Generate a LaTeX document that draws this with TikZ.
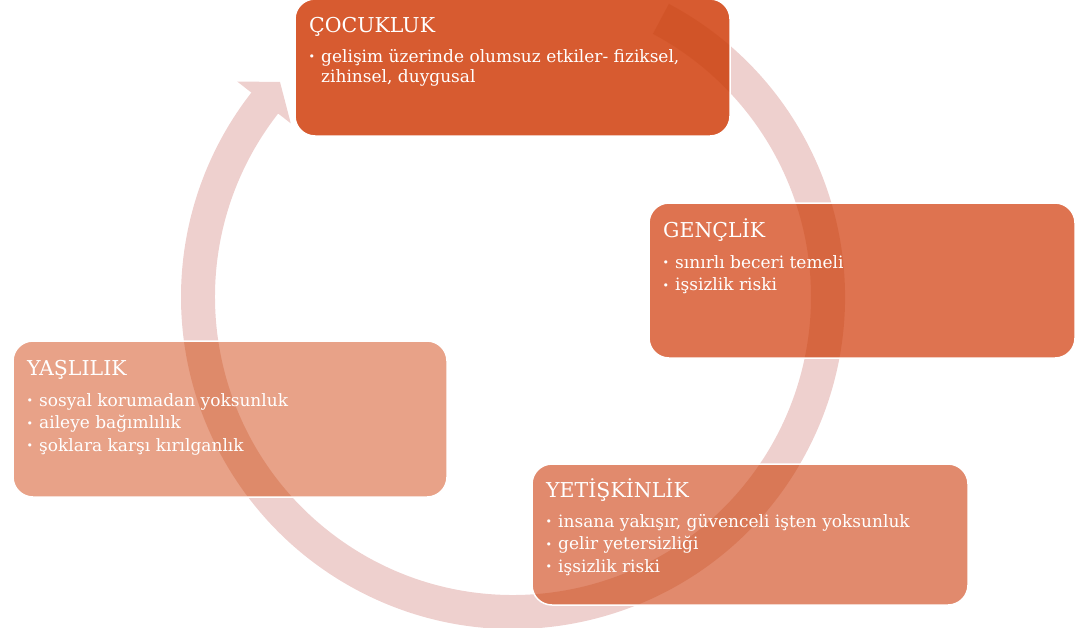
\documentclass[tikz,border=0pt]{standalone}
\usepackage{fontspec}
\setmainfont{DejaVu Serif}
\usetikzlibrary{calc}
\definecolor{ringc}{RGB}{238,208,206}
\definecolor{cA}{RGB}{215,91,48}
\definecolor{cB}{RGB}{222,115,80}
\definecolor{cC}{RGB}{225,138,109}
\definecolor{cD}{RGB}{232,162,136}
\definecolor{tintc}{RGB}{194,67,18}
\newcommand{\bul}{\makebox[12.5pt][l]{\fontsize{11}{11}\selectfont\raisebox{1.2pt}{•}}}
\begin{document}
\begin{tikzpicture}[x=1pt,y=1pt,
 box/.style={rectangle, rounded corners=20pt, draw=white, line width=1.5pt, inner sep=0pt, outer sep=0pt, anchor=north west},
 head/.style={anchor=base west, inner sep=0pt, text=white, font=\fontsize{20.5}{24}\selectfont},
 item/.style={anchor=base west, inner sep=0pt, text=white, font=\fontsize{17}{20}\selectfont},
 ringshape/.style={insert path={($(C)+(62:332)$) arc[start angle=62,end angle=-218,radius=332] -- ($(C)+(142:350)$) -- ($(C)+(142:316)+(52:26)$) -- ($(C)+(142:282)$) -- ($(C)+(142:298)$) arc[start angle=-218,end angle=62,radius=298] -- cycle}}
]
\useasboundingbox (0,0) rectangle (1076,-627);
\coordinate (C) at (513,-297);
\fill[ringc, ringshape];
\node[box, fill=cA, minimum width=435pt, minimum height=137pt] (cocuk) at (295,1) {};
\node[box, fill=cB, minimum width=426pt, minimum height=155pt] (genc) at (649,-203) {};
\node[box, fill=cD, minimum width=434pt, minimum height=156pt] (yasli) at (13,-341) {};
\node[box, fill=cC, minimum width=436pt, minimum height=141pt] (yetis) at (532,-464) {};
\begin{scope}
\clip[rounded corners=19pt] ($(cocuk.north west)+(1,-1)$) rectangle ($(cocuk.south east)+(-1,1)$)
  ($(genc.north west)+(1,-1)$) rectangle ($(genc.south east)+(-1,1)$)
  ($(yasli.north west)+(1,-1)$) rectangle ($(yasli.south east)+(-1,1)$)
  ($(yetis.north west)+(1,-1)$) rectangle ($(yetis.south east)+(-1,1)$);
\fill[tintc, opacity=0.25, ringshape];
\end{scope}
% texts
\node[head] (hA) at ($(cocuk.north west)+(14,-33)$) {ÇOCUKLUK};
\node[item] (a1) at ($(cocuk.north west)+(13.5,-63)$) {\bul gelişim üzerinde olumsuz etkiler- fiziksel,};
\node[item] (a2) at ($(cocuk.north west)+(26,-83)$) {zihinsel, duygusal};
\node[head] (hB) at ($(genc.north west)+(14,-34)$) {GENÇLİK};
\node[item] (b1) at ($(genc.north west)+(13.5,-65)$) {\bul sınırlı beceri temeli};
\node[item] (b2) at ($(genc.north west)+(13.5,-87.5)$) {\bul işsizlik riski};
\node[head] (hD) at ($(yasli.north west)+(14,-34)$) {YAŞLILIK};
\node[item] (d1) at ($(yasli.north west)+(13.5,-65)$) {\bul sosyal korumadan yoksunluk};
\node[item] (d2) at ($(yasli.north west)+(13.5,-87.5)$) {\bul aileye bağımlılık};
\node[item] (d3) at ($(yasli.north west)+(13.5,-110)$) {\bul şoklara karşı kırılganlık};
\node[head] (hC) at ($(yetis.north west)+(14,-33)$) {YETİŞKİNLİK};
\node[item] (c1) at ($(yetis.north west)+(13.5,-63)$) {\bul insana yakışır, güvenceli işten yoksunluk};
\node[item] (c2) at ($(yetis.north west)+(13.5,-85.5)$) {\bul gelir yetersizliği};
\node[item] (c3) at ($(yetis.north west)+(13.5,-108)$) {\bul işsizlik riski};
\end{tikzpicture}
\end{document}
